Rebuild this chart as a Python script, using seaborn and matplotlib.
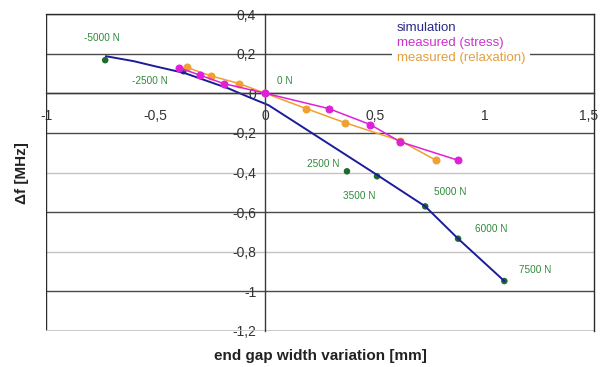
import matplotlib
matplotlib.use('Agg')
import matplotlib.pyplot as plt
import matplotlib.transforms as mtransforms
import seaborn as sns
import pandas as pd

# ---------------- data ----------------
sim_x = [-0.727, -0.60, -0.502, -0.368, -0.167, -0.076, 0.015, 0.205, 0.51, 0.73, 0.88, 1.091]
sim_y = [0.187, 0.162, 0.136, 0.102, 0.024, -0.019, -0.06, -0.195, -0.412, -0.571, -0.734, -0.948]

load_labels = ["-5000 N", "-2500 N", "0 N", "2500 N", "3500 N", "5000 N", "6000 N", "7500 N"]
load_x = [-0.73, -0.373, 0.0, 0.373, 0.51, 0.73, 0.88, 1.091]
load_y = [0.167, 0.111, 0.0, -0.394, -0.419, -0.571, -0.734, -0.948]

stress_x = [-0.391, -0.297, -0.19, 0.0, 0.289, 0.479, 0.616, 0.879]
stress_y = [0.128, 0.091, 0.049, 0.0, -0.077, -0.158, -0.245, -0.338]

relax_x = [-0.358, -0.249, -0.119, 0.0, 0.186, 0.362, 0.616, 0.779]
relax_y = [0.131, 0.088, 0.049, 0.0, -0.077, -0.148, -0.240, -0.338]

x_ticks = [-1, -0.5, 0, 0.5, 1, 1.5]
x_tick_labels = ["-1", "-0,5", "0", "0,5", "1", "1,5"]
y_ticks = [-1.2, -1.0, -0.8, -0.6, -0.4, -0.2, 0, 0.2, 0.4]
y_tick_labels = ["-1,2", "-1", "-0,8", "-0,6", "-0,4", "-0,2", "0", "0,2", "0,4"]

# label offsets (points) for the load annotations
label_offsets = [(-2, 16), (-24, -7), (14, 9), (-17, 5), (-13, -14), (18, 10), (24, 7), (22, 8)]

# ---------------- style ----------------
sns.set_style('white')
plt.rcParams['font.family'] = ['Liberation Sans', 'DejaVu Sans']

BLUE = '#1c1c9a'
GREEN = '#1d6b2c'
GREEN_TXT = '#2f8a3c'
MAGENTA = '#e020d8'
ORANGE = '#f0a030'

fig = plt.figure(figsize=(6.01, 3.67), dpi=100)
ax = fig.add_axes([46 / 601, 36 / 367, 548 / 601, 317 / 367])

sim_df = pd.DataFrame({'x': sim_x, 'y': sim_y})
load_df = pd.DataFrame({'x': load_x, 'y': load_y, 'label': load_labels})
stress_df = pd.DataFrame({'x': stress_x, 'y': stress_y})
relax_df = pd.DataFrame({'x': relax_x, 'y': relax_y})

# gridlines
for yv in y_ticks:
    light = yv in (-1.2, -0.8, -0.4)
    ax.axhline(yv, color='#c4c4c4' if light else '#4a4a4a', lw=1.0, zorder=0.5)

sns.scatterplot(data=load_df, x='x', y='y', color=GREEN, s=22, edgecolor='none', ax=ax, zorder=2)
sns.lineplot(data=relax_df, x='x', y='y', sort=False, color=ORANGE, lw=1.1, marker='o',
             markersize=5, markeredgecolor=ORANGE, label='measured (relaxation)', ax=ax, zorder=3)
sns.lineplot(data=stress_df, x='x', y='y', sort=False, color=MAGENTA, lw=1.1, marker='o',
             markersize=5, markeredgecolor=MAGENTA, label='measured (stress)', ax=ax, zorder=3)
sns.lineplot(data=sim_df, x='x', y='y', sort=False, color=BLUE, lw=1.4,
             label='simulation', ax=ax, zorder=2.5)

for lab, xv, yv, off in zip(load_labels, load_x, load_y, label_offsets):
    ax.annotate(lab, (xv, yv), xytext=off, textcoords='offset points',
                ha='center', va='center', fontsize=7.2, color=GREEN_TXT)

ax.set_xlim(-1, 1.5)
ax.set_ylim(-1.2, 0.4)
ax.set_xticks(x_ticks)
ax.set_xticklabels(x_tick_labels)
ax.set_yticks(y_ticks)
ax.set_yticklabels(y_tick_labels)

ax.spines['left'].set_position(('data', 0))
ax.spines['bottom'].set_position(('data', 0))
for s in ('left', 'bottom'):
    ax.spines[s].set_color('#3a3a3a')
    ax.spines[s].set_linewidth(1.0)
for s in ('top', 'right'):
    ax.spines[s].set_color('#2a2a2a')
    ax.spines[s].set_linewidth(1.0)
# outer frame lines (left / bottom borders)
ax.axvline(-1, color='#2a2a2a', lw=1.0, zorder=0.6)
ax.axhline(-1.2, color='#c4c4c4', lw=1.2, zorder=0.6)

ax.tick_params(axis='x', direction='out', length=4, width=1, color='#3a3a3a',
               pad=7, labelsize=10, labelcolor='#333333')
ax.tick_params(axis='y', direction='inout', length=5, width=1, color='#3a3a3a',
               pad=4, labelsize=10, labelcolor='#333333')

# keep the last x tick label inside the figure
last = ax.get_xticklabels()[-1]
last.set_transform(last.get_transform() +
                   mtransforms.ScaledTranslation(-4 / 72, 0, fig.dpi_scale_trans))

ax.set_xlabel('')
ax.set_ylabel('')
fig.text(320 / 601, 1 - 356 / 367, 'end gap width variation [mm]', ha='center', va='center',
         fontsize=11, fontweight='bold', color='#222222')
fig.text(22 / 601, 1 - 173 / 367, 'Δf [MHz]', ha='center', va='center', rotation=90,
         fontsize=11, fontweight='bold', color='#222222')

handles, labels = ax.get_legend_handles_labels()
order = [labels.index('simulation'), labels.index('measured (stress)'),
         labels.index('measured (relaxation)')]
leg = ax.legend([handles[i] for i in order], [labels[i] for i in order],
                loc='upper left', bbox_to_anchor=(0.632, 0.99), borderaxespad=0,
                handlelength=0, handletextpad=0, labelspacing=0.2, fontsize=9.5,
                frameon=True, facecolor='white', edgecolor='none', framealpha=1,
                borderpad=0.35, labelcolor=['#2a2a8a', '#cc33cc', '#e0a040'])
for h in leg.legend_handles:
    h.set_visible(False)

fig.savefig('out.png', dpi=100, facecolor='white')
